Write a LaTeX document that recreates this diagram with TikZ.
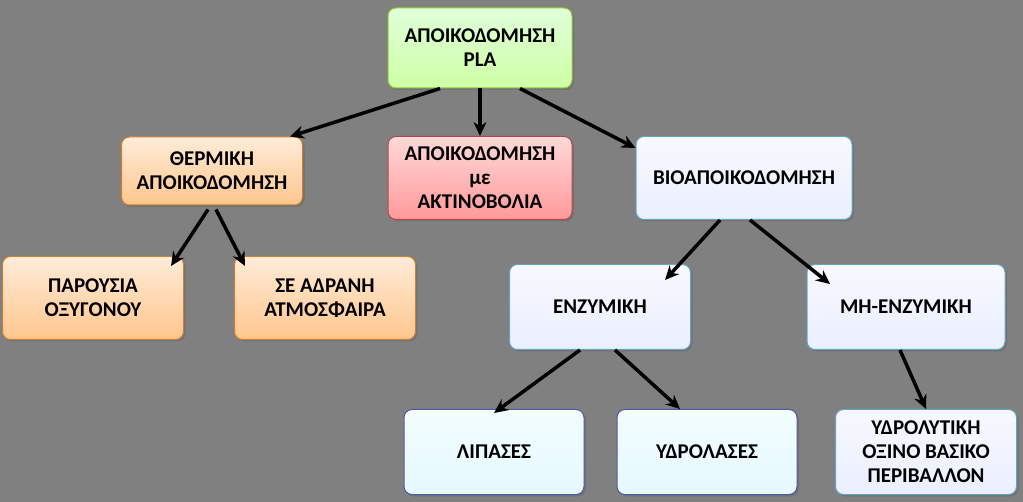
\documentclass[tikz,border=0pt]{standalone}
\usepackage{fontspec}
\setmainfont{Carlito}
\usetikzlibrary{arrows.meta,shadows}
\definecolor{bgray}{HTML}{808080}
\tikzset{
  box/.style={draw, line width=1pt, rounded corners=8pt, align=center,
    font=\bfseries\fontsize{21}{24}\selectfont,
    drop shadow={shadow xshift=2pt, shadow yshift=-2pt, fill=black!60}},
  rootbox/.style={box, draw=green!40!yellow!60!gray, top color=yellow!20!green!15!white, bottom color=yellow!45!green!35!white},
  heatbox/.style={box, draw=orange!60!gray, top color=orange!15!white, bottom color=orange!45!white},
  raybox/.style={box, draw=red!45!gray, top color=red!15!white, bottom color=red!40!white},
  biobox/.style={box, draw=cyan!50!gray, top color=cyan!5!blue!3!white, bottom color=cyan!25!blue!8!white},
  endbox/.style={box, draw=blue!35!gray, top color=blue!10!cyan!5!white, bottom color=blue!25!cyan!10!white},
  link/.style={-{Stealth[length=14pt,width=13pt]}, line width=3.5pt, black}
}
\begin{document}
\begin{tikzpicture}[x=1pt,y=-1pt]
  \fill[bgray] (0,0) rectangle (1023,502);
  \useasboundingbox (0,0) rectangle (1023,502);
  % top level
  \node[rootbox, minimum width=184pt, minimum height=80pt] (pla) at (480,48) {ΑΠΟΙΚΟΔΟΜΗΣΗ\\PLA};
  \node[heatbox, minimum width=181pt, minimum height=68pt] (thermal) at (212,171) {ΘΕΡΜΙΚΗ\\ΑΠΟΙΚΟΔΟΜΗΣΗ};
  \node[raybox, minimum width=184pt, minimum height=83pt] (radiation) at (480,178) {ΑΠΟΙΚΟΔΟΜΗΣΗ\\με\\ΑΚΤΙΝΟΒΟΛΙΑ};
  \node[biobox, minimum width=216pt, minimum height=83pt] (bio) at (744,178) {ΒΙΟΑΠΟΙΚΟΔΟΜΗΣΗ};
  % second level
  \node[heatbox, minimum width=181pt, minimum height=83pt] (oxygen) at (93,298) {ΠΑΡΟΥΣΙΑ\\ΟΞΥΓΟΝΟΥ};
  \node[heatbox, minimum width=181pt, minimum height=83pt] (inert) at (325,298) {ΣΕ ΑΔΡΑΝΗ\\ΑΤΜΟΣΦΑΙΡΑ};
  \node[biobox, minimum width=181pt, minimum height=85pt] (enzyme) at (600,307) {ΕΝΖΥΜΙΚΗ};
  \node[biobox, minimum width=198pt, minimum height=85pt] (nonenzyme) at (906,307) {ΜΗ-ΕΝΖΥΜΙΚΗ};
  % leaves
  \node[endbox, minimum width=180pt, minimum height=85pt] (lipase) at (494,452) {ΛΙΠΑΣΕΣ};
  \node[endbox, minimum width=180pt, minimum height=85pt] (hydrolase) at (707,452) {ΥΔΡΟΛΑΣΕΣ};
  \node[biobox, minimum width=181pt, minimum height=85pt] (hydrolytic) at (926,452) {ΥΔΡΟΛΥΤΙΚΗ\\ΟΞΙΝΟ ΒΑΣΙΚΟ\\ΠΕΡΙΒΑΛΛΟΝ};
  % connectors
  \draw[link] ([xshift=-40pt]pla.south) -- ([xshift=78pt]thermal.north);
  \draw[link] (pla.south) -- (radiation.north);
  \draw[link] ([xshift=40pt]pla.south) -- ([yshift=-12pt]bio.north west);
  \draw[link] ([xshift=-4pt,yshift=-4pt]thermal.south) -- ([xshift=78pt,yshift=-10pt]oxygen.north);
  \draw[link] ([xshift=4pt,yshift=-4pt]thermal.south) -- ([xshift=-80pt,yshift=-10pt]inert.north);
  \draw[link] ([xshift=-24pt]bio.south) -- ([xshift=65pt,yshift=-16pt]enzyme.north);
  \draw[link] ([xshift=6pt]bio.south) -- ([xshift=-76pt,yshift=-20pt]nonenzyme.north);
  \draw[link] ([xshift=-20pt]enzyme.south) -- ([yshift=-4pt]lipase.north);
  \draw[link] ([xshift=15pt]enzyme.south) -- ([xshift=-27pt]hydrolase.north);
  \draw[link] ([xshift=-6pt]nonenzyme.south) -- (hydrolytic.north);
\end{tikzpicture}
\end{document}
